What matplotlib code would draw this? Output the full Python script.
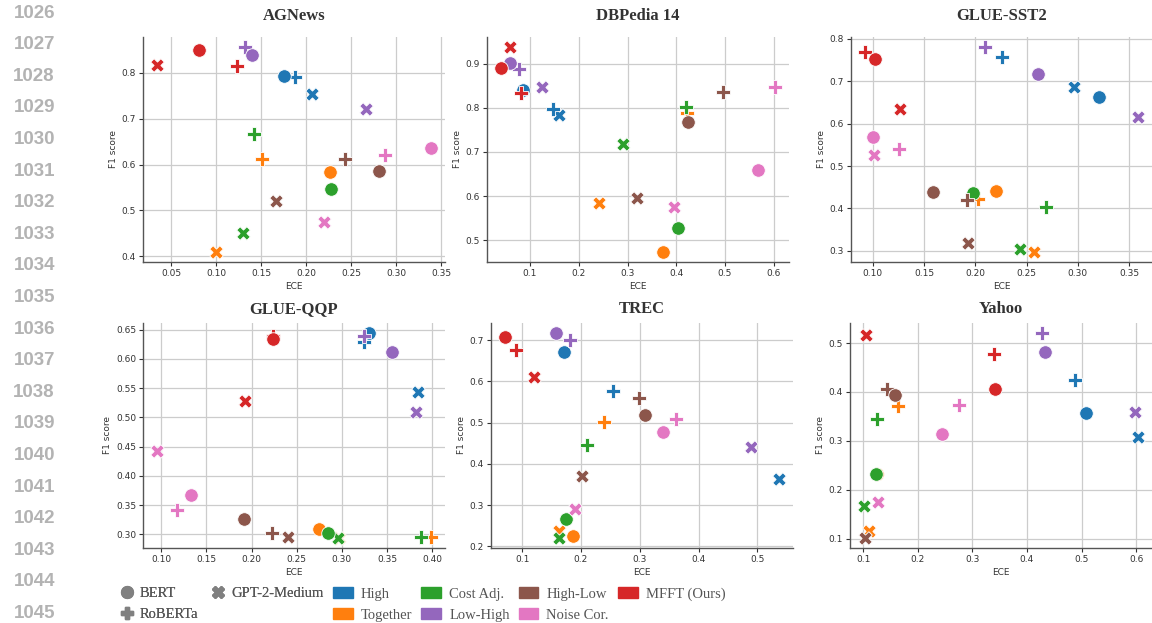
import matplotlib
matplotlib.use("Agg")
import matplotlib.pyplot as plt
from matplotlib.lines import Line2D
from matplotlib.patches import Patch

# method order: High, Together, Cost Adj., Low-High, High-Low, Noise Cor., MFFT (Ours)
methods = ["High", "Together", "Cost Adj.", "Low-High", "High-Low", "Noise Cor.", "MFFT (Ours)"]
method_colors = ["#1f77b4", "#ff7f0e", "#2ca02c", "#9467bd", "#8c564b", "#e377c2", "#d62728"]
models = ["BERT", "RoBERTa", "GPT-2-Medium"]
model_markers = ["o", "P", "X"]
datasets = ["AGNews", "DBPedia 14", "GLUE-SST2", "GLUE-QQP", "TREC", "Yahoo"]

# rows: BERT, RoBERTa, GPT-2-Medium
agnews_ece = [[0.175, 0.226, 0.228, 0.140, 0.281, 0.339, 0.081],
              [0.188, 0.151, 0.142, 0.132, 0.243, 0.288, 0.123],
              [0.206, 0.100, 0.130, 0.267, 0.166, 0.220, 0.034]]
agnews_f1 = [[0.794, 0.583, 0.547, 0.838, 0.586, 0.636, 0.849],
             [0.790, 0.612, 0.667, 0.856, 0.613, 0.622, 0.815],
             [0.754, 0.410, 0.452, 0.721, 0.521, 0.474, 0.817]]

dbpedia_ece = [[0.086, 0.372, 0.404, 0.058, 0.425, 0.568, 0.040],
               [0.147, 0.423, 0.419, 0.077, 0.495, 0.603, 0.081],
               [0.159, 0.242, 0.290, 0.125, 0.319, 0.395, 0.058]]
dbpedia_f1 = [[0.840, 0.474, 0.527, 0.902, 0.768, 0.658, 0.889],
              [0.797, 0.787, 0.801, 0.888, 0.835, 0.848, 0.833],
              [0.783, 0.585, 0.718, 0.848, 0.595, 0.575, 0.937]]

sst2_ece = [[0.321, 0.220, 0.198, 0.261, 0.159, 0.100, 0.102],
            [0.226, 0.203, 0.269, 0.209, 0.192, 0.125, 0.092],
            [0.296, 0.257, 0.2435, 0.359, 0.193, 0.101, 0.126]]
sst2_f1 = [[0.662, 0.442, 0.437, 0.718, 0.439, 0.568, 0.753],
           [0.758, 0.423, 0.403, 0.780, 0.421, 0.539, 0.768],
           [0.686, 0.298, 0.305, 0.616, 0.319, 0.526, 0.634]]

qqp_ece = [[0.330, 0.275, 0.285, 0.356, 0.192, 0.133, 0.224],
           [0.325, 0.399, 0.388, 0.325, 0.223, 0.118, 0.224],
           [0.3845, 0.297, 0.296, 0.382, 0.240, 0.095, 0.1925]]
qqp_f1 = [[0.644, 0.3085, 0.303, 0.612, 0.326, 0.367, 0.6335],
          [0.6295, 0.295, 0.295, 0.6386, 0.302, 0.341, 0.639],
          [0.543, 0.294, 0.294, 0.509, 0.295, 0.4425, 0.528]]

trec_ece = [[0.172, 0.187, 0.174, 0.157, 0.309, 0.339, 0.0705],
            [0.254, 0.2385, 0.2107, 0.1806, 0.299, 0.361, 0.090],
            [0.537, 0.162, 0.162, 0.489, 0.202, 0.190, 0.121]]
trec_f1 = [[0.671, 0.226, 0.267, 0.717, 0.518, 0.477, 0.707],
           [0.577, 0.501, 0.4455, 0.701, 0.561, 0.510, 0.6765],
           [0.363, 0.238, 0.221, 0.441, 0.370, 0.291, 0.611]]

yahoo_ece = [[0.5085, 0.1256, 0.123, 0.433, 0.158, 0.244, 0.3415],
             [0.488, 0.164, 0.125, 0.427, 0.144, 0.275, 0.339],
             [0.604, 0.111, 0.101, 0.5976, 0.103, 0.127, 0.1055]]
yahoo_f1 = [[0.357, 0.2335, 0.2335, 0.482, 0.394, 0.315, 0.4055],
            [0.4245, 0.3715, 0.345, 0.520, 0.406, 0.3735, 0.4776],
            [0.308, 0.1166, 0.1676, 0.359, 0.1023, 0.176, 0.516]]

all_ece = [agnews_ece, dbpedia_ece, sst2_ece, qqp_ece, trec_ece, yahoo_ece]
all_f1 = [agnews_f1, dbpedia_f1, sst2_f1, qqp_f1, trec_f1, yahoo_f1]

line_numbers = list(range(1026, 1046))

plt.rcParams["font.family"] = "DejaVu Sans"
fig = plt.figure(figsize=(11.52, 6.23), dpi=100)
W, H = 1152, 623

# axes boxes in pixels: left, top, right, bottom
boxes = [(143, 37, 445, 262), (487, 37, 789, 262), (851, 37, 1152, 262),
         (143, 323, 445, 548), (491, 323, 793, 548), (850, 323, 1152, 548)]

for k in range(6):
    l, t, r, b = boxes[k]
    ax = fig.add_axes([l / W, 1 - b / H, (r - l) / W, (b - t) / H])
    ax.set_axisbelow(True)
    ax.grid(True, color="#cccccc", linewidth=0.9)
    for m in range(7):
        for j in [2, 1, 0]:
            ax.scatter(all_ece[k][j][m], all_f1[k][j][m], s=95, marker=model_markers[j],
                       color=method_colors[m], edgecolor="white", linewidth=0.6, zorder=3)
    ax.set_title(datasets[k], fontfamily="Liberation Serif", fontweight="bold",
                 fontsize=12, color="#333333", pad=12 if k < 3 else 7)
    ax.set_xlabel("ECE", fontsize=6.5, color="#333333", labelpad=3)
    ax.set_ylabel("F1 score", fontsize=6.5, color="#333333", labelpad=3)
    ax.tick_params(labelsize=6.5, length=3, width=0.8, colors="#333333", pad=2)
    ax.spines["top"].set_visible(False)
    ax.spines["right"].set_visible(False)
    for s in ["left", "bottom"]:
        ax.spines[s].set_color("#555555")
        ax.spines[s].set_linewidth(1.0)

# line numbers in the margin
for i, n in enumerate(line_numbers):
    fig.text(55 / W, 1 - (13 + i * 31.6) / H, str(n), ha="right", va="center",
             fontsize=13.5, color="#b3b3b3", fontfamily="Liberation Sans", fontweight="bold")

blank = Line2D([], [], linestyle="none", marker=None)
leg_font = {"family": "Liberation Serif", "size": 10.5}

# model (marker) legend
model_handles = [Line2D([], [], linestyle="none", marker="o", color="#808080", markersize=8.5),
                 Line2D([], [], linestyle="none", marker="P", color="#808080", markersize=8.5),
                 Line2D([], [], linestyle="none", marker="X", color="#808080", markersize=8.5),
                 blank]
model_labels = ["BERT", "RoBERTa", "GPT-2-Medium", ""]
leg1 = fig.legend(model_handles, model_labels, ncol=2, loc="upper left",
                  bbox_to_anchor=(120 / W, 1 - 587 / H), frameon=False, prop=leg_font,
                  borderpad=0, borderaxespad=0, handlelength=0.96, handletextpad=0.4,
                  columnspacing=0.9, labelspacing=0.5, labelcolor="#555555")

# method (colour) legend
method_handles = [Patch(color=c) for c in method_colors] + [blank]
method_labels = methods + [""]
fig.legend(method_handles, method_labels, ncol=4, loc="upper left",
           bbox_to_anchor=(333 / W, 1 - 587 / H), frameon=False, prop=leg_font,
           borderpad=0, borderaxespad=0, handlelength=1.37, handleheight=0.82,
           handletextpad=0.55, columnspacing=0.6, labelspacing=0.5, labelcolor="#555555")
fig.add_artist(leg1)

fig.savefig("out.png", dpi=100)
